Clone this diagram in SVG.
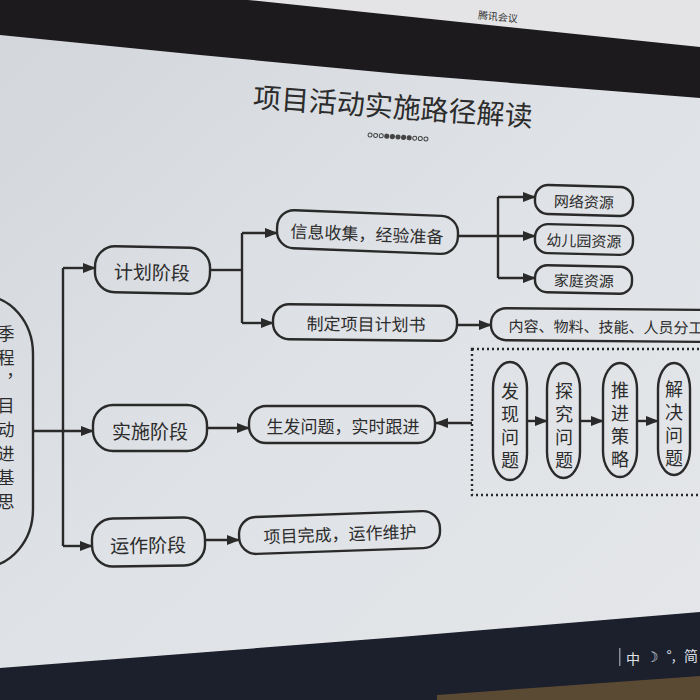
<svg xmlns="http://www.w3.org/2000/svg" width="700" height="700" viewBox="0 0 700 700">
<defs>
  <linearGradient id="slideBg" x1="0" y1="0" x2="1" y2="1">
    <stop offset="0" stop-color="#d3d7dc"/>
    <stop offset="0.5" stop-color="#dfe2e6"/>
    <stop offset="1" stop-color="#e4e6e9"/>
  </linearGradient>
  <marker id="arr" markerUnits="userSpaceOnUse" markerWidth="13" markerHeight="10" refX="12" refY="5" orient="auto">
    <path d="M0,0 L13,5 L0,10 Z" fill="#2a2a2a"/>
  </marker>
</defs>
<style>
  .box { fill: none; stroke: #2a2a2a; stroke-width: 2.4; }
  .t { font-family: "Noto Sans CJK SC", "Noto Sans", sans-serif; fill: #2c2c2c; text-anchor: middle; dominant-baseline: central; }
  .big { font-size: 19px; }
  .mid { font-size: 17px; }
  .sm { font-size: 15px; }
  .v { font-size: 18px; writing-mode: vertical-rl; letter-spacing: 5px; }
  .ln { fill: none; stroke: #2a2a2a; stroke-width: 2.4; }
  .ar { fill: none; stroke: #2a2a2a; stroke-width: 2.4; marker-end: url(#arr); }
</style>

<!-- photo surroundings -->
<rect x="0" y="0" width="700" height="700" fill="#1d1a1e"/>
<polygon points="248,0 700,0 700,47" fill="#e4e4e6"/>
<text x="498" y="16" transform="rotate(5.5 498 16)" font-family="Noto Sans CJK SC, sans-serif" font-size="10" fill="#333" text-anchor="middle" dominant-baseline="central">腾讯会议</text>
<polygon points="0,668 700,612 700,700 0,700" fill="#1c1f2c"/>
<polygon points="437,695 700,676 700,700 437,700" fill="#5b4a33"/>

<!-- slide -->
<polygon points="0,35 200,55 400,74 700,98 700,612 400,637 0,668" fill="url(#slideBg)"/>

<!-- taskbar tray -->
<g id="tray" font-family="Noto Sans CJK SC, DejaVu Sans, sans-serif" font-size="14" fill="#dfe1e6">
  <rect x="619" y="648" width="1.5" height="18" fill="#8a8d96"/>
  <text x="633" y="658" text-anchor="middle" dominant-baseline="central">中</text>
  <text x="652" y="657" text-anchor="middle" dominant-baseline="central" font-family="DejaVu Sans, sans-serif">☽</text>
  <text x="671" y="655" text-anchor="middle" dominant-baseline="central">°,</text>
  <text x="691" y="655" text-anchor="middle" dominant-baseline="central">简</text>
</g>

<!-- title -->
<g id="title">
  <text class="t" x="393" y="105" font-size="28" transform="rotate(4 393 105)" fill="#2b2f33">项目活动实施路径解读</text>
  <g id="dots" transform="rotate(4 398 137)" stroke="#444" stroke-width="1" fill="none">
    <circle cx="370" cy="137" r="2"/><circle cx="375.6" cy="137" r="2"/><circle cx="381.2" cy="137" r="2"/>
    <circle cx="386.8" cy="137" r="2.1" fill="#444"/><circle cx="392.4" cy="137" r="2.1" fill="#444"/><circle cx="398" cy="137" r="2.1" fill="#444"/><circle cx="403.6" cy="137" r="2.1" fill="#444"/><circle cx="409.2" cy="137" r="2.1" fill="#444"/>
    <circle cx="414.8" cy="137" r="2"/><circle cx="420.4" cy="137" r="2"/><circle cx="426" cy="137" r="2"/>
  </g>
</g>

<!-- connectors -->
<g id="connectors">
  <path class="ar" d="M33,431 H93"/>
  <path class="ln" d="M63,268 V546"/>
  <path class="ar" d="M63,268 H95"/>
  <path class="ar" d="M63,546 H92"/>
  <path class="ln" d="M210,270 H242"/>
  <path class="ln" d="M242,233 V323"/>
  <path class="ar" d="M242,233 H277"/>
  <path class="ar" d="M242,323 H273"/>
  <path class="ar" d="M458,236 H535"/>
  <path class="ln" d="M498,197 V278"/>
  <path class="ar" d="M498,197 H535"/>
  <path class="ar" d="M498,278 H535"/>
  <path class="ar" d="M457,325 H491"/>
  <path class="ar" d="M207,428 H249"/>
  <path class="ar" d="M472,423 H436"/>
  <path class="ar" d="M205,540 H239"/>
  <path class="ar" d="M527,421 H547"/>
  <path class="ar" d="M580,421 H603"/>
  <path class="ar" d="M637,421 H658"/>
</g>

<!-- nodes -->
<g id="root">
  <rect class="box" x="-80" y="296" width="113" height="271" rx="50" ry="58"/>
  <text class="t" x="6" y="421" font-size="17" style="writing-mode: vertical-rl; letter-spacing: 7px;">季程，目动进基思</text>
</g>

<g id="plan" transform="rotate(1.2 152 270)">
  <rect class="box" x="95" y="247" width="115" height="46" rx="20"/>
  <text class="t big" x="152" y="271">计划阶段</text>
</g>
<g id="info" transform="rotate(2.2 367 232)">
  <rect class="box" x="277" y="213" width="181" height="38" rx="17"/>
  <text class="t mid" x="367" y="233">信息收集，经验准备</text>
</g>
<g id="planbook" transform="rotate(0.6 365 322)">
  <rect class="box" x="273" y="305" width="184" height="35" rx="16"/>
  <text class="t mid" x="366" y="323">制定项目计划书</text>
</g>
<g id="web" transform="rotate(1.6 584 200)">
  <rect class="box" x="535" y="186" width="98" height="29" rx="13"/>
  <text class="t sm" x="584" y="201">网络资源</text>
</g>
<g id="kinder" transform="rotate(1.4 584 239)">
  <rect class="box" x="535" y="225" width="98" height="29" rx="13"/>
  <text class="t sm" x="584" y="240">幼儿园资源</text>
</g>
<g id="family" transform="rotate(1.2 584 280)">
  <rect class="box" x="535" y="266" width="97" height="27" rx="12"/>
  <text class="t sm" x="584" y="280">家庭资源</text>
</g>
<g id="content" transform="rotate(0.5 600 325)">
  <rect class="box" x="491" y="309" width="240" height="32" rx="15"/>
  <text class="t sm" x="606" y="326">内容、物料、技能、人员分工</text>
</g>

<g id="impl">
  <rect class="box" x="93" y="405" width="114" height="46" rx="20"/>
  <text class="t big" x="150" y="430">实施阶段</text>
</g>
<g id="issue">
  <rect class="box" x="249" y="406" width="186" height="37" rx="17"/>
  <text class="t mid" x="343" y="425">生发问题，实时跟进</text>
</g>

<g id="cycle">
  <rect x="472" y="349" width="240" height="146" fill="none" stroke="#2a2a2a" stroke-width="2.4" stroke-dasharray="2 3"/>
  <g id="c1">
    <rect class="box" x="493" y="362" width="34" height="118" rx="17" ry="26"/>
    <text class="t v" x="510" y="428">发现问题</text>
  </g>
  <g id="c2">
    <rect class="box" x="547" y="363" width="33" height="115" rx="16.5" ry="26"/>
    <text class="t v" x="564" y="428">探究问题</text>
  </g>
  <g id="c3">
    <rect class="box" x="603" y="363" width="34" height="114" rx="17" ry="26"/>
    <text class="t v" x="620" y="427">推进策略</text>
  </g>
  <g id="c4">
    <rect class="box" x="658" y="363" width="32" height="112" rx="16" ry="26"/>
    <text class="t v" x="674" y="426">解决问题</text>
  </g>
</g>

<g id="ops" transform="rotate(-0.8 148 542)">
  <rect class="box" x="92" y="518" width="113" height="48" rx="21"/>
  <text class="t big" x="148" y="544">运作阶段</text>
</g>
<g id="done" transform="rotate(-2 340 532)">
  <rect class="box" x="239" y="514" width="201" height="37" rx="17"/>
  <text class="t mid" x="340" y="533">项目完成，运作维护</text>
</g>
</svg>
